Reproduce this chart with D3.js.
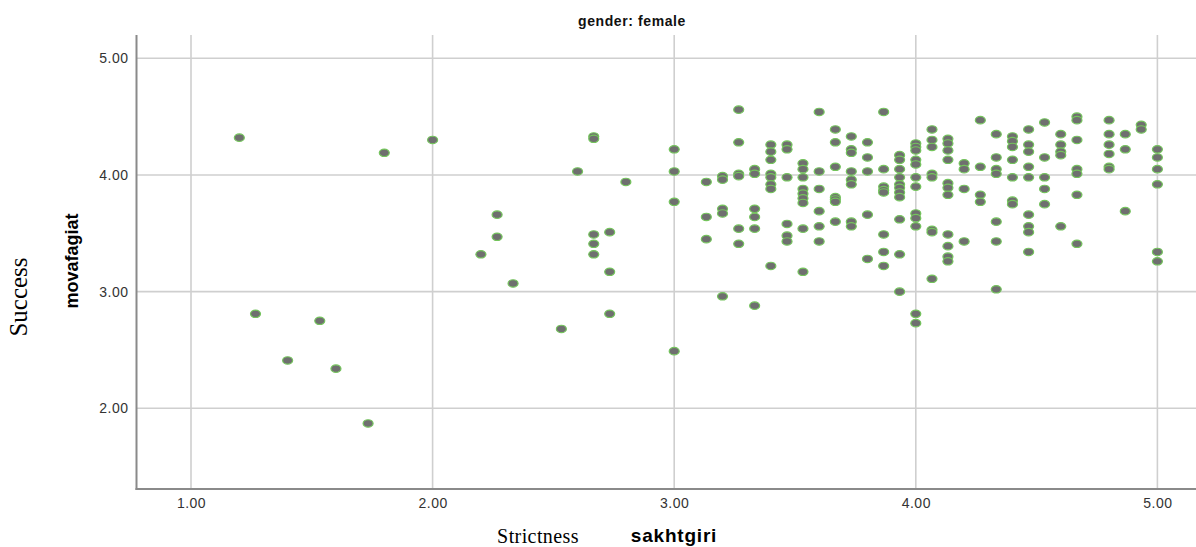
<!DOCTYPE html>
<html>
<head>
<meta charset="utf-8">
<script src="https://cdn.jsdelivr.net/npm/d3@7"></script>
<style>
  body { margin: 0; background: #fff; }
  svg { display: block; font-family: "Liberation Sans", Arial, sans-serif; }
</style>
</head>
<body>
<div id="chart"></div>
<script>
// sakhtgiri (strictness) levels, one column of points per level
const sakhtgiri = [
  1.2, 1.267, 1.4, 1.533, 1.6, 1.733, 1.8, 2.0, 2.2, 2.267, 2.333, 2.533, 2.6, 2.667, 2.733, 2.8,
  3.0, 3.133, 3.2, 3.267, 3.333, 3.4, 3.467, 3.533, 3.6, 3.667, 3.733, 3.8, 3.867, 3.933,
  4.0, 4.067, 4.133, 4.2, 4.267, 4.333, 4.4, 4.467, 4.533, 4.6, 4.667, 4.8, 4.867, 4.933, 5.0
];
// movafagiat (success) values of each column, same order as sakhtgiri
const movafagiat = [
  [4.32], [2.81], [2.41], [2.75], [2.34], [1.87], [4.19], [4.30], [3.32], [3.66, 3.47], [3.07], [2.68], [4.03],
  [4.33, 4.31, 3.49, 3.41, 3.32], [3.51, 3.17, 2.81], [3.94],
  [4.22, 4.03, 3.77, 2.49],
  [3.94, 3.64, 3.45],
  [3.99, 3.96, 3.71, 3.67, 2.96],
  [4.56, 4.28, 4.01, 3.99, 3.54, 3.41],
  [4.05, 4.01, 3.71, 3.64, 3.54, 2.88],
  [4.26, 4.20, 4.13, 4.01, 3.98, 3.92, 3.88, 3.22],
  [4.26, 4.22, 3.98, 3.58, 3.48, 3.43],
  [4.10, 4.05, 3.98, 3.88, 3.84, 3.80, 3.76, 3.54, 3.17],
  [4.54, 4.03, 3.88, 3.69, 3.56, 3.43],
  [4.39, 4.28, 4.07, 3.81, 3.79, 3.77, 3.60],
  [4.33, 4.22, 4.19, 4.03, 3.96, 3.92, 3.60, 3.56],
  [4.28, 4.15, 4.03, 3.66, 3.28],
  [4.54, 4.05, 3.90, 3.87, 3.85, 3.49, 3.34, 3.22],
  [4.17, 4.13, 4.05, 3.98, 3.92, 3.89, 3.85, 3.81, 3.62, 3.32, 3.00],
  [4.27, 4.24, 4.21, 4.13, 4.09, 3.98, 3.90, 3.67, 3.63, 3.56, 2.81, 2.73],
  [4.39, 4.30, 4.24, 4.01, 3.98, 3.53, 3.51, 3.11],
  [4.31, 4.27, 4.21, 4.13, 3.93, 3.89, 3.83, 3.49, 3.39, 3.30, 3.26],
  [4.10, 4.05, 3.88, 3.43],
  [4.47, 4.07, 3.83, 3.77],
  [4.35, 4.15, 4.05, 4.01, 3.60, 3.43, 3.02],
  [4.33, 4.29, 4.24, 4.13, 3.98, 3.78, 3.75],
  [4.39, 4.26, 4.20, 4.07, 3.98, 3.66, 3.56, 3.51, 3.34],
  [4.45, 4.15, 3.98, 3.88, 3.75],
  [4.35, 4.26, 4.20, 4.17, 3.56],
  [4.50, 4.47, 4.30, 4.05, 4.01, 3.83, 3.41],
  [4.47, 4.35, 4.26, 4.18, 4.07, 4.05],
  [4.35, 4.22, 3.69],
  [4.43, 4.39],
  [4.22, 4.15, 4.05, 3.92, 3.34, 3.26]
];
const xTicks = [1, 2, 3, 4, 5];
const yTicks = [2, 3, 4, 5];

const width = 1196, height = 547;
const plot = { left: 136.5, right: 1196, top: 35, bottom: 489 };

const points = [];
sakhtgiri.forEach((sx, i) => movafagiat[i].forEach(v => points.push({ x: sx, y: v })));

const x = d3.scaleLinear().domain([1, 5]).range([191, 1157.4]);
const y = d3.scaleLinear().domain([2, 5]).range([408.3, 58.3]);

const svg = d3.select("#chart").append("svg")
  .attr("width", width).attr("height", height);

// grid
svg.append("g").selectAll("line").data(xTicks).enter().append("line")
  .attr("x1", d => x(d)).attr("x2", d => x(d))
  .attr("y1", plot.top).attr("y2", plot.bottom)
  .attr("stroke", "#cfcfcf").attr("stroke-width", 1.6);
svg.append("g").selectAll("line").data(yTicks).enter().append("line")
  .attr("x1", plot.left).attr("x2", plot.right)
  .attr("y1", d => y(d)).attr("y2", d => y(d))
  .attr("stroke", "#cfcfcf").attr("stroke-width", 1.6);

// axes (labels only, frame drawn below)
const xAxis = d3.axisBottom(x).tickValues(xTicks).tickFormat(d3.format(".2f")).tickSize(0).tickPadding(9);
const gx = svg.append("g").attr("transform", `translate(0,${plot.bottom})`).call(xAxis);
const yAxis = d3.axisLeft(y).tickValues(yTicks).tickFormat(d3.format(".2f")).tickSize(0).tickPadding(8);
const gy = svg.append("g").attr("transform", `translate(${plot.left},0)`).call(yAxis);
[gx, gy].forEach(g => {
  g.select(".domain").remove();
  g.selectAll("text")
    .style("font-family", "'Liberation Sans', Arial, sans-serif")
    .style("font-size", "14px")
    .style("letter-spacing", "0.5px")
    .attr("fill", "#333");
});

svg.append("line")
  .attr("x1", plot.left).attr("x2", plot.left)
  .attr("y1", plot.top).attr("y2", plot.bottom + 1)
  .attr("stroke", "#8a8a8a").attr("stroke-width", 2);
svg.append("line")
  .attr("x1", plot.left - 1).attr("x2", plot.right)
  .attr("y1", plot.bottom).attr("y2", plot.bottom)
  .attr("stroke", "#8a8a8a").attr("stroke-width", 2);

// points
svg.append("g").selectAll("ellipse").data(points).enter().append("ellipse")
  .attr("cx", d => x(d.x)).attr("cy", d => y(d.y))
  .attr("rx", 5).attr("ry", 3.7)
  .attr("fill", "#6f6f6f")
  .attr("stroke", "#74c45c").attr("stroke-width", 1.2);

// titles
svg.append("text")
  .attr("x", 632).attr("y", 26)
  .attr("text-anchor", "middle")
  .style("font-size", "14px").style("font-weight", "bold")
  .style("letter-spacing", "0.6px")
  .attr("fill", "#111")
  .text("gender: female");

svg.append("text")
  .attr("transform", "translate(78,261) rotate(-90)")
  .attr("text-anchor", "middle")
  .style("font-size", "18px").style("font-weight", "bold")
  .attr("fill", "#000")
  .text("movafagiat");

svg.append("text")
  .attr("transform", "translate(27,297) rotate(-90)")
  .attr("text-anchor", "middle")
  .style("font-family", "'Liberation Serif', 'Times New Roman', serif")
  .style("font-size", "25px")
  .attr("fill", "#000")
  .text("Success");

svg.append("text")
  .attr("x", 538).attr("y", 543)
  .attr("text-anchor", "middle")
  .style("font-family", "'Liberation Serif', 'Times New Roman', serif")
  .style("font-size", "20px")
  .style("letter-spacing", "0.4px")
  .attr("fill", "#000")
  .text("Strictness");

svg.append("text")
  .attr("x", 674).attr("y", 542)
  .attr("text-anchor", "middle")
  .style("font-size", "19px").style("font-weight", "bold")
  .style("letter-spacing", "0.8px")
  .attr("fill", "#000")
  .text("sakhtgiri");
</script>
</body>
</html>
